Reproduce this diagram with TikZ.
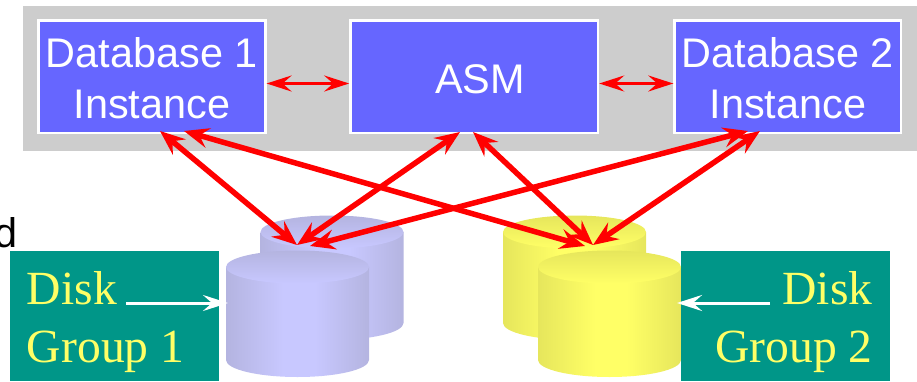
\documentclass[tikz,border=0pt]{standalone}
\usepackage{fontspec}
\setmainfont{Liberation Sans}
\newfontfamily\serifbody{Liberation Serif}
\usetikzlibrary{arrows.meta}
\definecolor{panelgray}{HTML}{CDCDCD}
\definecolor{dbblue}{HTML}{6666FF}
\definecolor{teal}{HTML}{009688}
\definecolor{labelyellow}{HTML}{FFFF66}
\definecolor{blueedge}{HTML}{B4B4E0}
\definecolor{bluemid}{HTML}{C8C8FF}
\definecolor{yeledge}{HTML}{E6E65C}
\definecolor{yelmid}{HTML}{FFFF66}
\pgfdeclarehorizontalshading{bluebody}{100bp}{color(0bp)=(blueedge); color(25bp)=(blueedge); color(45bp)=(bluemid); color(56bp)=(bluemid); color(75bp)=(blueedge); color(100bp)=(blueedge)}
\pgfdeclarehorizontalshading{yelbody}{100bp}{color(0bp)=(yeledge); color(25bp)=(yeledge); color(45bp)=(yelmid); color(56bp)=(yelmid); color(75bp)=(yeledge); color(100bp)=(yeledge)}
\newcommand{\diskdrum}[5]{% left x, top centre y, bottom centre y, body shading, colour prefix
  \shade[shading=#4] (#1pt,#2pt) -- (#1pt,#3pt) arc[start angle=180,end angle=360,x radius=71.5pt,y radius=17pt] -- ++(0pt,#2pt-#3pt) -- cycle;
  \shade[top color=#5edge,bottom color=#5mid,shading angle=0] ({#1+71.5},#2) ellipse[x radius=71.5pt,y radius=16.5pt];
}
\tikzset{
  x=1pt,y=1pt,
  dbbox/.style={draw=white,line width=2.5pt,fill=dbblue,text=white,align=flush center,inner sep=0pt,font=\fontsize{41.4}{51}\selectfont},
  groupbox/.style={fill=teal,text=labelyellow,minimum width=209pt,minimum height=130pt,text width=175pt,inner xsep=10pt,font=\serifbody\fontsize{47.6}{58}\selectfont},
  biglink/.style={red,line width=5.5pt,{Stealth[length=25pt,width=20pt,inset=9pt]}-{Stealth[length=25pt,width=20pt,inset=9pt]}},
  smalllink/.style={red,line width=3pt,{Stealth[length=25pt,width=16pt,inset=9pt]}-{Stealth[length=25pt,width=16pt,inset=9pt]}},
  whitelink/.style={white,line width=3pt,-{Stealth[length=25pt,width=16pt,inset=9pt]}}
}
\begin{document}
\begin{tikzpicture}
\useasboundingbox (0,0) rectangle (917,381);
\fill[panelgray] (23,230) rectangle (917,375);
\node[dbbox,minimum width=227pt,minimum height=112.5pt] (dbone) at (151.8,304.2) {\rule{0pt}{33pt}Database 1\\Instance};
\node[dbbox,minimum width=247.5pt,minimum height=112.5pt] (asm) at (474.2,304.2) {\hspace*{12pt}\rule{0pt}{33pt}ASM};
\node[dbbox,minimum width=226.5pt,minimum height=112.5pt] (dbtwo) at (787.8,304.2) {\rule{0pt}{33pt}Database 2\\Instance};
\node[anchor=base east,inner sep=0pt,font=\fontsize{41.4}{51}\selectfont] (cut) at (18,134) {d};
% disks
\diskdrum{260.5}{149}{58}{bluebody}{blue}
\diskdrum{226}{114}{21}{bluebody}{blue}
\diskdrum{503}{149}{58}{yelbody}{yel}
\diskdrum{538}{114}{21}{yelbody}{yel}
% labels
\node[groupbox,align=flush left] (gone) at (114.5,65) {\rule{0pt}{46pt}Disk\\Group 1};
\node[groupbox,align=flush right] (gtwo) at (785,65) {\rule{0pt}{46pt}Disk\\Group 2};
% connector ends
\coordinate (a1) at (160,250);
\coordinate (a2) at (184,250);
\coordinate (a3) at (460,249);
\coordinate (a4) at (473,249);
\coordinate (a5) at (748,250);
\coordinate (a6) at (760,250);
\coordinate (b1) at (297,136);
\coordinate (b2) at (310,135);
\coordinate (c1) at (585,135);
\coordinate (c2) at (593,136);
\coordinate (wl0) at (126,78);
\coordinate (wl1) at (228,78);
\coordinate (wr0) at (770,78);
\coordinate (wr1) at (677,78);
\draw[biglink] (a1) -- (b1);
\draw[biglink] (a3) -- (b1);
\draw[biglink] (a5) -- (b2);
\draw[biglink] (a2) -- (c1);
\draw[biglink] (a4) -- (c2);
\draw[biglink] (a6) -- (c2);
\draw[smalllink] (dbone.east |- 0,297.5) -- (asm.west |- 0,297.5);
\draw[smalllink] (asm.east |- 0,297.5) -- (dbtwo.west |- 0,297.5);
\draw[whitelink] (wl0) -- (wl1);
\draw[whitelink] (wr0) -- (wr1);
\end{tikzpicture}
\end{document}
